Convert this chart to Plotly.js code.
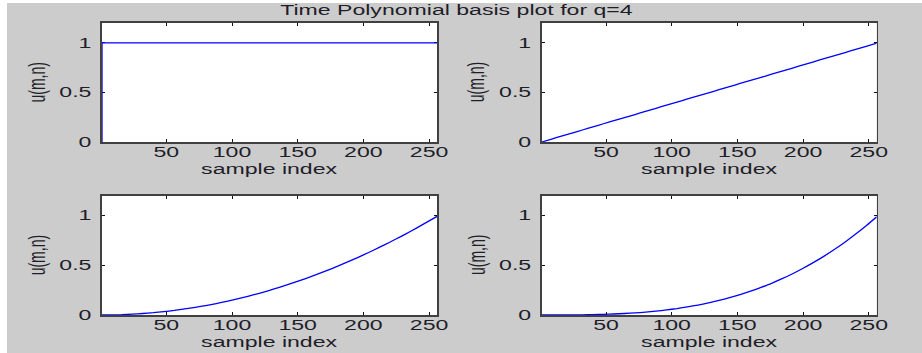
<!DOCTYPE html>
<html>
<head>
<meta charset="utf-8">
<script src="https://cdn.plot.ly/plotly-3.0.1.min.js"></script>
<style>
  html, body { margin: 0; padding: 0; background: #ffffff; }
  #frame { position: absolute; left: 7px; top: 3px; right: 0; bottom: 0; background: #cccccc; }
  #chart { position: absolute; left: 0; top: 0; width: 922px; height: 353px; }
</style>
</head>
<body>
<div id="frame"></div>
<div id="chart"></div>
<script>
// Sample positions (n) along the time axis
const sampleIndex = [1, 8, 16, 24, 32, 40, 48, 56, 64, 72, 80, 88, 96, 104, 112, 120, 128,
  136, 144, 152, 160, 168, 176, 184, 192, 200, 208, 216, 224, 232, 240, 248, 256];

// Basis m = 0 : constant (rises from 0 at the first sample)
const constX = [1, 1, 256];
const constY = [0, 1, 1];

// Basis m = 1 : linear
const basis1 = [0, 0.027, 0.059, 0.090, 0.121, 0.152, 0.184, 0.215, 0.246, 0.277, 0.309,
  0.340, 0.371, 0.402, 0.434, 0.465, 0.496, 0.527, 0.559, 0.590, 0.621, 0.652, 0.684,
  0.715, 0.746, 0.777, 0.809, 0.840, 0.871, 0.902, 0.934, 0.965, 0.996];

// Basis m = 2 : quadratic
const basis2 = [0, 0.001, 0.003, 0.008, 0.015, 0.023, 0.034, 0.046, 0.061, 0.077, 0.095,
  0.115, 0.138, 0.162, 0.188, 0.216, 0.246, 0.278, 0.312, 0.348, 0.386, 0.426, 0.467,
  0.511, 0.557, 0.604, 0.654, 0.705, 0.759, 0.814, 0.872, 0.931, 0.992];

// Basis m = 3 : cubic
const basis3 = [0, 0, 0, 0.001, 0.002, 0.004, 0.006, 0.010, 0.015, 0.021, 0.029,
  0.039, 0.051, 0.065, 0.082, 0.100, 0.122, 0.147, 0.174, 0.205, 0.240, 0.278, 0.319,
  0.365, 0.415, 0.470, 0.529, 0.592, 0.661, 0.735, 0.814, 0.898, 0.988];

const xTicks = [50, 100, 150, 200, 250];
const yTicks = [0, 0.5, 1];
const yTickText = ['0', '0.5', '1'];

const chartTitle = 'Time Polynomial basis plot for q=4';
const xLabel = 'sample index';
const yLabel = 'u(m,n)';

const W = 922, H = 353;
const FONT = 'Liberation Sans, Arial, Helvetica, sans-serif';
const FS = 14;
const TXT = '#1e1e28';

const line = { color: '#0000ff', width: 1.3, shape: 'spline', smoothing: 0.5 };
const traces = [
  { x: constX, y: constY, xaxis: 'x', yaxis: 'y', line: { color: '#0000ff', width: 1.3 } },
  { x: sampleIndex, y: basis1, xaxis: 'x2', yaxis: 'y2', line },
  { x: sampleIndex, y: basis2, xaxis: 'x3', yaxis: 'y3', line },
  { x: sampleIndex, y: basis3, xaxis: 'x4', yaxis: 'y4', line }
].map(t => Object.assign(t, { type: 'scatter', mode: 'lines', cliponaxis: false, hoverinfo: 'skip' }));

// Panel boxes in pixels: [left, right, top, bottom]
const panels = [
  [102, 437, 23, 142],
  [541.7, 876.7, 23, 142],
  [102, 437, 195.7, 315],
  [541.7, 876.7, 195.7, 315]
];

function xAxis(p, anchor) {
  return {
    domain: [p[0] / W, p[1] / W], anchor, range: [1, 256],
    tickmode: 'array', tickvals: xTicks, ticks: 'inside', ticklen: 3, tickwidth: 1, tickcolor: '#111',
    showline: true, linecolor: '#404040', linewidth: 1.6, mirror: 'ticks',
    showgrid: false, zeroline: false, layer: 'below traces',
    ticklabelstandoff: -3,
    tickfont: { family: FONT, size: FS, color: TXT }
  };
}
function yAxis(p, anchor) {
  return {
    domain: [1 - p[3] / H, 1 - p[2] / H], anchor, range: [0, 1.2],
    tickmode: 'array', tickvals: yTicks, ticktext: yTickText, ticks: 'inside', ticklen: 3, tickwidth: 1, tickcolor: '#111',
    showline: true, linecolor: '#404040', linewidth: 1.6, mirror: 'ticks',
    showgrid: false, zeroline: false, layer: 'below traces',
    ticklabelstandoff: 6,
    tickfont: { family: FONT, size: FS, color: TXT }
  };
}

const annotations = [];
panels.forEach(p => {
  annotations.push({
    text: yLabel, xref: 'paper', yref: 'paper', showarrow: false, textangle: -90,
    x: (p[0] - 65) / W, y: 1 - (p[2] + p[3]) / 2 / H, xanchor: 'center', yanchor: 'middle',
    font: { family: FONT, size: FS, color: TXT }
  });
  annotations.push({
    text: xLabel, xref: 'paper', yref: 'paper', showarrow: false,
    x: (p[0] + p[1]) / 2 / W, y: 1 - (p[3] + 27) / H, xanchor: 'center', yanchor: 'middle',
    font: { family: FONT, size: FS, color: TXT }
  });
});

const layout = {
  width: W, height: H,
  margin: { l: 0, r: 0, t: 0, b: 0, pad: 0 },
  paper_bgcolor: 'rgba(0,0,0,0)', plot_bgcolor: '#ffffff',
  showlegend: false,
  title: {
    text: chartTitle, x: 456.5 / W, xref: 'paper', xanchor: 'center',
    y: 1 - 10.5 / H, yref: 'paper', yanchor: 'middle',
    font: { family: FONT, size: FS, color: TXT }
  },
  xaxis: xAxis(panels[0], 'y'), yaxis: yAxis(panels[0], 'x'),
  xaxis2: xAxis(panels[1], 'y2'), yaxis2: yAxis(panels[1], 'x2'),
  xaxis3: xAxis(panels[2], 'y3'), yaxis3: yAxis(panels[2], 'x3'),
  xaxis4: xAxis(panels[3], 'y4'), yaxis4: yAxis(panels[3], 'x4'),
  annotations
};

// Widen the lettering horizontally, keeping each label anchored where it was placed
function widenText(gd, s) {
  const items = [];
  gd.querySelectorAll('g[class$="tick"] > text, text.gtitle').forEach(e =>
    items.push([e, e.getAttribute('text-anchor') || 'middle']));
  gd.querySelectorAll('g.annotation').forEach(e => items.push([e, 'middle']));
  items.forEach(([el, anchor]) => {
    const r = el.getBoundingClientRect();
    const xs = anchor === 'end' ? r.right : anchor === 'start' ? r.left : (r.left + r.right) / 2;
    const m = el.parentNode.getScreenCTM();
    const xp = (xs - m.e) / m.a;
    const prev = el.getAttribute('transform') || '';
    el.setAttribute('transform', `translate(${xp},0) scale(${s},1) translate(${-xp},0) ${prev}`);
  });
}

const gd = document.getElementById('chart');
Plotly.newPlot(gd, traces, layout, { staticPlot: true, displayModeBar: false })
  .then(() => widenText(gd, 1.65));
</script>
</body>
</html>
